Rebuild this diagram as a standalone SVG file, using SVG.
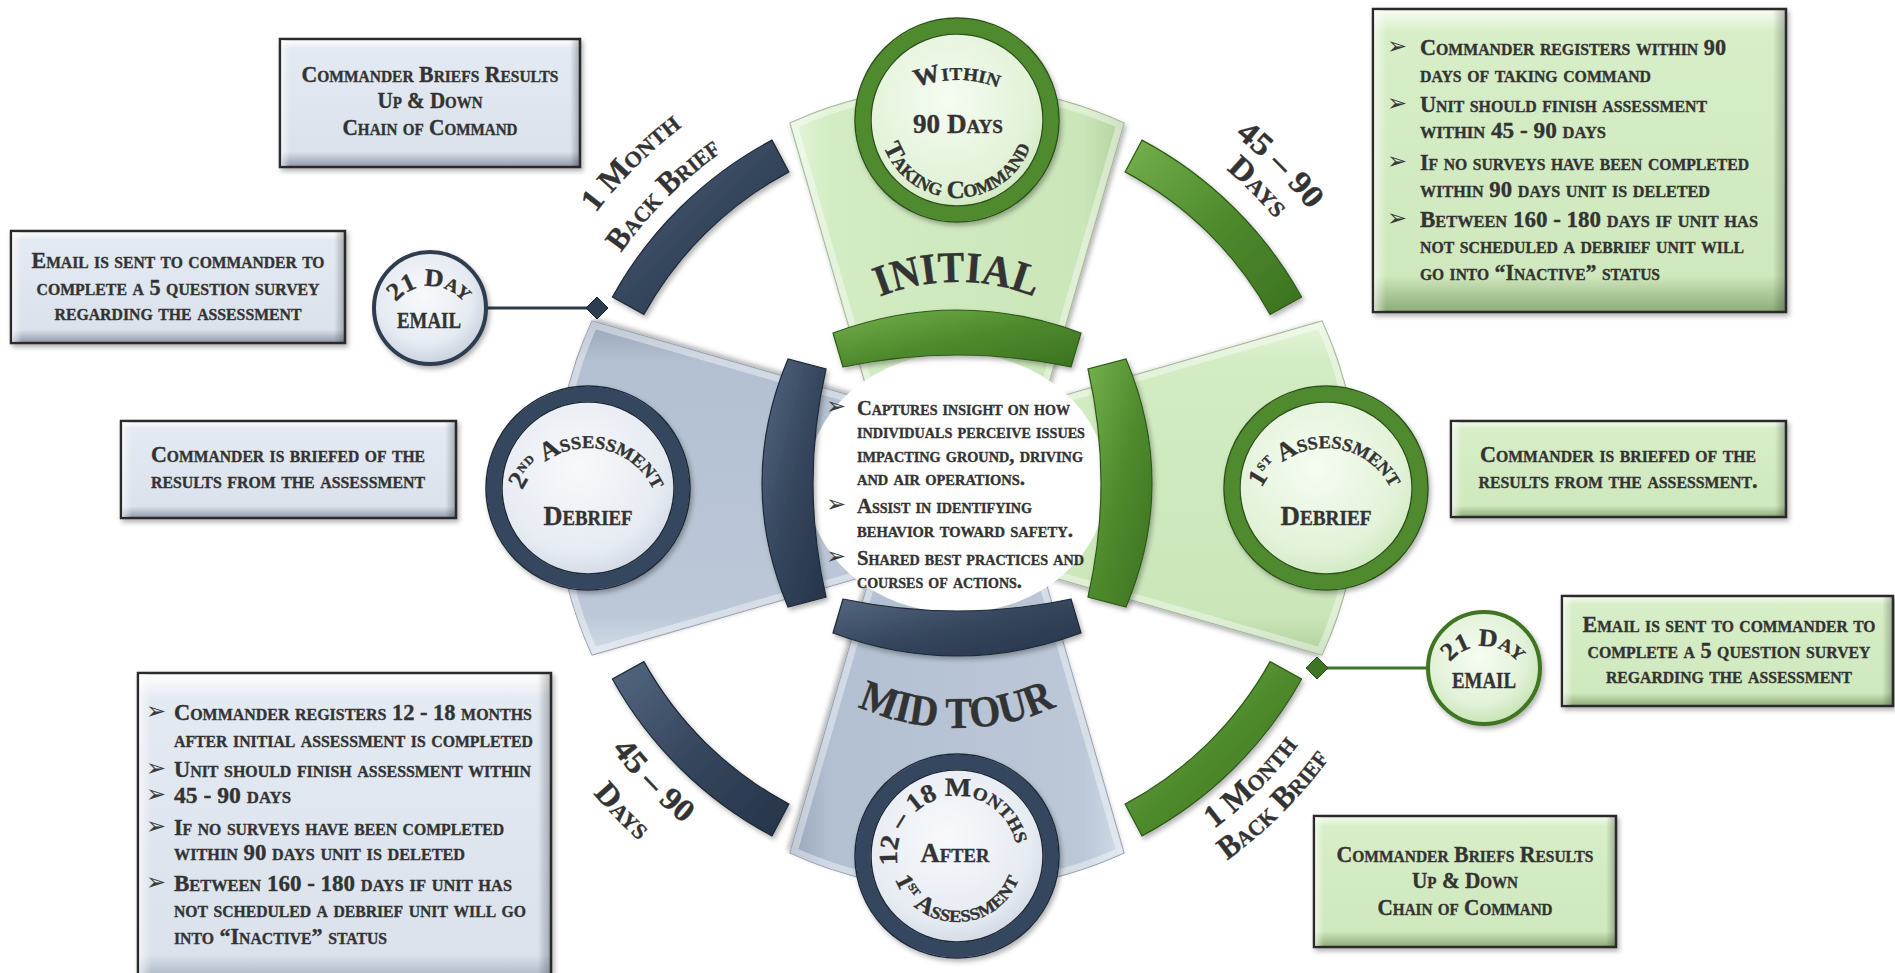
<svg xmlns="http://www.w3.org/2000/svg" width="1895" height="973" viewBox="0 0 1895 973">
<defs>
<style>
.t{font-family:"Liberation Serif","DejaVu Serif",serif;font-weight:bold;font-variant:small-caps;fill:#333333;stroke:#333333;stroke-width:0.35}
.m{text-anchor:middle}
.bul{font-family:"DejaVu Sans",sans-serif;font-size:24px;fill:#3a3a3a}
.bx{font-size:22.5px}
.ct{font-size:20.5px}
.lab{font-size:32px}
.big{font-size:44px;font-variant:normal}
.boxB{fill:url(#gBoxB);stroke:#2a2a2a;stroke-width:2.5}
.boxG{fill:url(#gBoxG);stroke:#2a2a2a;stroke-width:2.5}
.bev{fill:url(#gBev);stroke:none}
.spG{fill:url(#gSpG);stroke:#97ad8a;stroke-width:1.2}
.spB{fill:url(#gSpB);stroke:#8a97a8;stroke-width:1.2}
.hl{fill:none;stroke:#ffffff;stroke-opacity:0.4;stroke-width:14}
.arN{fill:url(#gNavy);stroke:#1f2a39;stroke-width:1.2}
.arG{fill:url(#gGreen);stroke:#2f5a1a;stroke-width:1.2}
.ringN{fill:none;stroke:#34465e;stroke-width:15}
.ringG{fill:none;stroke:#4f8b2d;stroke-width:15}
.olN{fill:none;stroke:#1f2a39;stroke-width:1.5}
.olG{fill:none;stroke:#2c5418;stroke-width:1.5}
.sh{filter:url(#shadow)}
</style>
<filter id="shadow" x="-10%" y="-10%" width="130%" height="130%">
<feDropShadow dx="2" dy="3" stdDeviation="2.5" flood-color="#000" flood-opacity="0.3"/>
</filter>
<linearGradient id="gBoxB" x1="0" y1="0" x2="0" y2="1">
<stop offset="0" stop-color="#ffffff"/><stop offset="0.08" stop-color="#e4eaf2"/><stop offset="0.88" stop-color="#dbe2ec"/><stop offset="1" stop-color="#8d98a9"/>
</linearGradient>
<linearGradient id="gBoxG" x1="0" y1="0" x2="0" y2="1">
<stop offset="0" stop-color="#f6fcf1"/><stop offset="0.08" stop-color="#d7eec8"/><stop offset="0.88" stop-color="#cfe8bd"/><stop offset="1" stop-color="#8cab78"/>
</linearGradient>
<linearGradient id="gBev" x1="0" y1="0" x2="1" y2="0">
<stop offset="0" stop-color="#ffffff" stop-opacity="0.6"/><stop offset="0.03" stop-color="#ffffff" stop-opacity="0"/><stop offset="0.97" stop-color="#000000" stop-opacity="0"/><stop offset="1" stop-color="#000000" stop-opacity="0.25"/>
</linearGradient>
<linearGradient id="gSpG" x1="0" y1="0" x2="1" y2="0">
<stop offset="0" stop-color="#e6f5dc"/><stop offset="0.12" stop-color="#d3ecc3"/><stop offset="0.88" stop-color="#cbe6b9"/><stop offset="1" stop-color="#b2d09e"/>
</linearGradient>
<linearGradient id="gSpB" x1="0" y1="0" x2="1" y2="0">
<stop offset="0" stop-color="#d3dce8"/><stop offset="0.12" stop-color="#bcc8d8"/><stop offset="0.88" stop-color="#b3c0d2"/><stop offset="1" stop-color="#98a6b9"/>
</linearGradient>
<linearGradient id="gNavy" x1="0" y1="0" x2="1" y2="1">
<stop offset="0" stop-color="#54677f"/><stop offset="0.5" stop-color="#35465d"/><stop offset="1" stop-color="#26344a"/>
</linearGradient>
<linearGradient id="gGreen" x1="0" y1="0" x2="1" y2="1">
<stop offset="0" stop-color="#74b04c"/><stop offset="0.5" stop-color="#4f8b2d"/><stop offset="1" stop-color="#3b7220"/>
</linearGradient>
<radialGradient id="gCirG" cx="0.45" cy="0.4" r="0.6">
<stop offset="0" stop-color="#f6fcf2"/><stop offset="0.7" stop-color="#e2f2d8"/><stop offset="1" stop-color="#c9e4b6"/>
</radialGradient>
<radialGradient id="gCirB" cx="0.45" cy="0.4" r="0.6">
<stop offset="0" stop-color="#f8f9fc"/><stop offset="0.7" stop-color="#e6ebf2"/><stop offset="1" stop-color="#c9d2df"/>
</radialGradient>
<path id="spokeShape" d="M 790,123 A 401 401 0 0 1 1124,123 L 1044,400 L 870,400 Z"/>
<clipPath id="cpSpoke"><use href="#spokeShape"/></clipPath>
<path id="pTL1" d="M 518.5,370.5 A 454 454 0 0 1 839.5,49.5"/>
<path id="pTL2" d="M 561.0,381.9 A 410 410 0 0 1 850.9,92.0"/>
<path id="pTR1" d="M 1073.2,54.3 A 449 449 0 0 1 1390.7,371.8"/>
<path id="pTR2" d="M 1064.9,85.2 A 417 417 0 0 1 1359.8,380.1"/>
<path id="pBL1" d="M 536.9,592.7 A 433 433 0 0 0 837.7,904.2"/>
<path id="pBL2" d="M 496.1,602.9 A 475 475 0 0 0 826.1,944.6"/>
<path id="pBR1" d="M 1067.5,900.4 A 427 427 0 0 0 1369.4,598.5"/>
<path id="pBR2" d="M 1076.1,932.3 A 460 460 0 0 0 1401.3,607.1"/>
<path id="pInit" d="M 824.6,330.2 A 206 206 0 0 1 1089.4,330.2"/>
<path id="pMid" d="M 773.2,642.3 A 240 240 0 0 0 1140.8,642.3"/>
<path id="pWithin" d="M 879.2,112.2 A 110 110 0 0 1 1034.8,112.2"/>
<path id="pTaking" d="M 880.2,133.5 A 78 78 0 0 0 1033.8,133.5"/>
<path id="p2nd" d="M 517.1,507.5 A 72 72 0 0 1 658.9,507.5"/>
<path id="p1st" d="M 1255.1,507.5 A 72 72 0 0 1 1396.9,507.5"/>
<path id="p1218" d="M 900.6,876.5 A 60 60 0 1 1 1017,856"/>
<path id="pAfter1" d="M 892,867.5 A 66 66 0 0 0 1022,867.5"/>
<path id="pEmL" d="M 386.7,322.4 A 44 44 0 0 1 473.3,322.4"/>
<path id="pEmR" d="M 1440.7,682.4 A 44 44 0 0 1 1527.3,682.4"/>
</defs>
<rect width="1895" height="973" fill="#ffffff"/>

<g id="spokes">
<g id="spoke-initial" class="sh"><use href="#spokeShape" class="spG"/><use href="#spokeShape" class="hl" clip-path="url(#cpSpoke)"/></g>
<g id="spoke-first" class="sh" transform="rotate(90 957 488)"><use href="#spokeShape" class="spG"/><use href="#spokeShape" class="hl" clip-path="url(#cpSpoke)"/></g>
<g id="spoke-midtour" class="sh" transform="rotate(180 957 488)"><use href="#spokeShape" class="spB"/><use href="#spokeShape" class="hl" clip-path="url(#cpSpoke)"/></g>
<g id="spoke-second" class="sh" transform="rotate(270 957 488)"><use href="#spokeShape" class="spB"/><use href="#spokeShape" class="hl" clip-path="url(#cpSpoke)"/></g>
</g>

<g id="outer-ring" class="sh">
<path class="arN" d="M 772.0,140.1 A 394 394 0 0 0 612.4,297.0 L 643.9,314.4 A 358 358 0 0 1 788.9,171.9 Z"/>
<path class="arG" d="M 1142.0,140.1 A 394 394 0 0 1 1301.6,297.0 L 1270.1,314.4 A 358 358 0 0 0 1125.1,171.9 Z"/>
<path class="arG" d="M 1142.0,835.9 A 394 394 0 0 0 1301.6,679.0 L 1270.1,661.6 A 358 358 0 0 1 1125.1,804.1 Z"/>
<path class="arN" d="M 772.0,835.9 A 394 394 0 0 1 612.4,679.0 L 643.9,661.6 A 358 358 0 0 0 788.9,804.1 Z"/>
</g>

<g id="connectors">
<line x1="487" y1="308" x2="597" y2="308" stroke="#2e3c50" stroke-width="3"/>
<path d="M 597,297 L 608,308 L 597,319 L 586,308 Z" fill="#2e3c50" stroke="#1a2330" stroke-width="1"/>
<line x1="1317" y1="668" x2="1427" y2="668" stroke="#3f7424" stroke-width="3"/>
<path d="M 1317,657 L 1328,668 L 1317,679 L 1306,668 Z" fill="#3f7424" stroke="#26501a" stroke-width="1"/>
</g>

<g id="hub">
<ellipse cx="957" cy="483" rx="150" ry="130" fill="#ffffff"/>
<g class="sh">
<path class="arG" d="M 833,333 Q 957,287 1081,333 L 1071,367 Q 957,343 843,367 Z"/>
<path class="arG" d="M 1126,359 Q 1178,483 1126,607 L 1088,597 Q 1114,483 1088,369 Z"/>
<path class="arN" d="M 833,633 Q 957,679 1081,633 L 1071,599 Q 957,623 843,599 Z"/>
<path class="arN" d="M 788,359 Q 736,483 788,607 L 826,597 Q 800,483 826,369 Z"/>
</g>
<text class="bul" x="826" y="414">➢</text>
<text class="t ct" x="857" y="415" textLength="213" lengthAdjust="spacingAndGlyphs">Captures insight on how</text>
<text class="t ct" x="857" y="438" textLength="228" lengthAdjust="spacingAndGlyphs">individuals perceive issues</text>
<text class="t ct" x="857" y="462" textLength="226" lengthAdjust="spacingAndGlyphs">impacting ground, driving</text>
<text class="t ct" x="857" y="485" textLength="168" lengthAdjust="spacingAndGlyphs">and air operations.</text>
<text class="bul" x="826" y="512">➢</text>
<text class="t ct" x="857" y="513" textLength="175" lengthAdjust="spacingAndGlyphs">Assist in identifying</text>
<text class="t ct" x="857" y="537" textLength="216" lengthAdjust="spacingAndGlyphs">behavior toward safety.</text>
<text class="bul" x="826" y="564">➢</text>
<text class="t ct" x="857" y="565" textLength="227" lengthAdjust="spacingAndGlyphs">Shared best practices and</text>
<text class="t ct" x="857" y="588" textLength="165" lengthAdjust="spacingAndGlyphs">courses of actions.</text>
</g>

<g id="phase-labels">
<text class="t big"><textPath href="#pInit" startOffset="50%" text-anchor="middle" textLength="158" lengthAdjust="spacingAndGlyphs">INITIAL</textPath></text>
<text class="t big"><textPath href="#pMid" startOffset="50%" text-anchor="middle" textLength="205" lengthAdjust="spacingAndGlyphs">MID TOUR</textPath></text>
</g>

<g id="node-within" class="sh">
<circle cx="957" cy="120" r="102" fill="url(#gCirG)"/>
<circle cx="957" cy="120" r="94" class="ringG"/>
<circle cx="957" cy="120" r="102" class="olG"/>
<circle cx="957" cy="120" r="86" class="olG"/>
</g>
<g id="node-within-text">
<text class="t" style="font-size:25px"><textPath href="#pWithin" startOffset="50%" text-anchor="middle" textLength="84" lengthAdjust="spacingAndGlyphs">Within</textPath></text>
<text class="t m" x="958" y="133" style="font-size:27px" textLength="90" lengthAdjust="spacingAndGlyphs">90 Days</text>
<text class="t" style="font-size:25px"><textPath href="#pTaking" startOffset="50%" text-anchor="middle" textLength="190" lengthAdjust="spacingAndGlyphs">Taking Command</textPath></text>
</g>

<g id="node-first-debrief" class="sh">
<circle cx="1326" cy="488" r="102" fill="url(#gCirG)"/>
<circle cx="1326" cy="488" r="94" class="ringG"/>
<circle cx="1326" cy="488" r="102" class="olG"/>
<circle cx="1326" cy="488" r="86" class="olG"/>
</g>
<g id="node-first-debrief-text">
<text class="t" style="font-size:26px"><textPath href="#p1st" startOffset="50%" text-anchor="middle" textLength="160" lengthAdjust="spacingAndGlyphs">1<tspan style="font-size:17px" dy="-8">st</tspan><tspan dy="8"> Assessment</tspan></textPath></text>
<text class="t m" x="1326" y="525" style="font-size:28px" textLength="91" lengthAdjust="spacingAndGlyphs">Debrief</text>
</g>

<g id="node-midtour" class="sh">
<circle cx="957" cy="856" r="102" fill="url(#gCirB)"/>
<circle cx="957" cy="856" r="94" class="ringN"/>
<circle cx="957" cy="856" r="102" class="olN"/>
<circle cx="957" cy="856" r="86" class="olN"/>
</g>
<g id="node-midtour-text">
<text class="t" style="font-size:26px"><textPath href="#p1218" startOffset="50%" text-anchor="middle" textLength="185" lengthAdjust="spacingAndGlyphs">12 – 18 Months</textPath></text>
<text class="t m" x="955" y="862" style="font-size:27px" textLength="69" lengthAdjust="spacingAndGlyphs">After</text>
<text class="t" style="font-size:24px"><textPath href="#pAfter1" startOffset="50%" text-anchor="middle" textLength="160" lengthAdjust="spacingAndGlyphs">1<tspan style="font-size:15px" dy="-8">st</tspan><tspan dy="8"> Assessment</tspan></textPath></text>
</g>

<g id="node-second-debrief" class="sh">
<circle cx="588" cy="488" r="102" fill="url(#gCirB)"/>
<circle cx="588" cy="488" r="94" class="ringN"/>
<circle cx="588" cy="488" r="102" class="olN"/>
<circle cx="588" cy="488" r="86" class="olN"/>
</g>
<g id="node-second-debrief-text">
<text class="t" style="font-size:26px"><textPath href="#p2nd" startOffset="50%" text-anchor="middle" textLength="165" lengthAdjust="spacingAndGlyphs">2<tspan style="font-size:17px" dy="-8">nd</tspan><tspan dy="8"> Assessment</tspan></textPath></text>
<text class="t m" x="588" y="525" style="font-size:28px" textLength="89" lengthAdjust="spacingAndGlyphs">Debrief</text>
</g>

<g id="arc-labels">
<text class="t lab"><textPath href="#pTL1" startOffset="50%" text-anchor="middle" textLength="123" lengthAdjust="spacingAndGlyphs">1 Month</textPath></text>
<text class="t lab"><textPath href="#pTL2" startOffset="50%" text-anchor="middle" textLength="143" lengthAdjust="spacingAndGlyphs">Back Brief</textPath></text>
<text class="t lab"><textPath href="#pTR1" startOffset="50%" text-anchor="middle" textLength="106" lengthAdjust="spacingAndGlyphs">45 – 90</textPath></text>
<text class="t lab"><textPath href="#pTR2" startOffset="50%" text-anchor="middle" textLength="70" lengthAdjust="spacingAndGlyphs">Days</textPath></text>
<text class="t lab"><textPath href="#pBL1" startOffset="50%" text-anchor="middle" textLength="104" lengthAdjust="spacingAndGlyphs">45 – 90</textPath></text>
<text class="t lab"><textPath href="#pBL2" startOffset="50%" text-anchor="middle" textLength="66" lengthAdjust="spacingAndGlyphs">Days</textPath></text>
<text class="t lab"><textPath href="#pBR1" startOffset="50%" text-anchor="middle" textLength="119" lengthAdjust="spacingAndGlyphs">1 Month</textPath></text>
<text class="t lab"><textPath href="#pBR2" startOffset="50%" text-anchor="middle" textLength="145" lengthAdjust="spacingAndGlyphs">Back Brief</textPath></text>
</g>

<g id="email-left" class="sh">
<circle cx="430" cy="308" r="56" fill="url(#gCirB)" stroke="#2e3c50" stroke-width="4"/>
</g>
<g id="email-left-text">
<text class="t" style="font-size:25px"><textPath href="#pEmL" startOffset="50%" text-anchor="middle" textLength="78" lengthAdjust="spacingAndGlyphs">21 Day</textPath></text>
<text class="t m" x="429" y="328" style="font-size:24px" textLength="64" lengthAdjust="spacingAndGlyphs">EMAIL</text>
</g>

<g id="email-right" class="sh">
<circle cx="1484" cy="668" r="56" fill="url(#gCirG)" stroke="#3f7424" stroke-width="4"/>
</g>
<g id="email-right-text">
<text class="t" style="font-size:25px"><textPath href="#pEmR" startOffset="50%" text-anchor="middle" textLength="78" lengthAdjust="spacingAndGlyphs">21 Day</textPath></text>
<text class="t m" x="1484" y="688" style="font-size:24px" textLength="64" lengthAdjust="spacingAndGlyphs">EMAIL</text>
</g>

<g id="box-tl-brief">
<rect class="boxB sh" x="280" y="39" width="300" height="128"/>
<rect class="bev" x="281" y="40" width="298" height="126"/>
<text class="t bx m" x="430" y="82" textLength="257" lengthAdjust="spacingAndGlyphs">Commander Briefs Results</text>
<text class="t bx m" x="430" y="108" textLength="105" lengthAdjust="spacingAndGlyphs">Up &amp; Down</text>
<text class="t bx m" x="430" y="135" textLength="175" lengthAdjust="spacingAndGlyphs">Chain of Command</text>
</g>

<g id="box-left-email">
<rect class="boxB sh" x="11" y="231" width="334" height="112"/>
<rect class="bev" x="12" y="232" width="332" height="110"/>
<text class="t bx m" x="178" y="268" textLength="293" lengthAdjust="spacingAndGlyphs">Email is sent to commander to</text>
<text class="t bx m" x="178" y="295" textLength="283" lengthAdjust="spacingAndGlyphs">complete a 5 question survey</text>
<text class="t bx m" x="178" y="320" textLength="247" lengthAdjust="spacingAndGlyphs">regarding the assessment</text>
</g>

<g id="box-left-briefed">
<rect class="boxB sh" x="121" y="421" width="335" height="97"/>
<rect class="bev" x="122" y="422" width="333" height="95"/>
<text class="t bx m" x="288" y="462" textLength="274" lengthAdjust="spacingAndGlyphs">Commander is briefed of the</text>
<text class="t bx m" x="288" y="488" textLength="274" lengthAdjust="spacingAndGlyphs">results from the assessment</text>
</g>

<g id="box-bl-midtour">
<rect class="boxB sh" x="138" y="673" width="413" height="320"/>
<rect class="bev" x="139" y="674" width="411" height="318"/>
<text class="bul" x="146" y="719">➢</text>
<text class="t bx" x="174" y="720" textLength="358" lengthAdjust="spacingAndGlyphs">Commander registers 12 - 18 months</text>
<text class="t bx" x="174" y="747" textLength="359" lengthAdjust="spacingAndGlyphs">after initial assessment is completed</text>
<text class="bul" x="146" y="776">➢</text>
<text class="t bx" x="174" y="777" textLength="357" lengthAdjust="spacingAndGlyphs">Unit should finish assessment within</text>
<text class="bul" x="146" y="802">➢</text>
<text class="t bx" x="174" y="803" textLength="117" lengthAdjust="spacingAndGlyphs">45 - 90 days</text>
<text class="bul" x="146" y="834">➢</text>
<text class="t bx" x="174" y="835" textLength="330" lengthAdjust="spacingAndGlyphs">If no surveys have been completed</text>
<text class="t bx" x="174" y="860" textLength="291" lengthAdjust="spacingAndGlyphs">within 90 days unit is deleted</text>
<text class="bul" x="146" y="890">➢</text>
<text class="t bx" x="174" y="891" textLength="338" lengthAdjust="spacingAndGlyphs">Between 160 - 180 days if unit has</text>
<text class="t bx" x="174" y="917" textLength="352" lengthAdjust="spacingAndGlyphs">not scheduled a debrief unit will go</text>
<text class="t bx" x="174" y="944" textLength="213" lengthAdjust="spacingAndGlyphs">into “Inactive” status</text>
</g>

<g id="box-tr-initial">
<rect class="boxG sh" x="1373" y="9" width="413" height="303"/>
<rect class="bev" x="1374" y="10" width="411" height="301"/>
<text class="bul" x="1387" y="54">➢</text>
<text class="t bx" x="1420" y="55" textLength="306" lengthAdjust="spacingAndGlyphs">Commander registers within 90</text>
<text class="t bx" x="1420" y="82" textLength="231" lengthAdjust="spacingAndGlyphs">days of taking command</text>
<text class="bul" x="1387" y="111">➢</text>
<text class="t bx" x="1420" y="112" textLength="287" lengthAdjust="spacingAndGlyphs">Unit should finish assessment</text>
<text class="t bx" x="1420" y="138" textLength="186" lengthAdjust="spacingAndGlyphs">within 45 - 90 days</text>
<text class="bul" x="1387" y="169">➢</text>
<text class="t bx" x="1420" y="170" textLength="329" lengthAdjust="spacingAndGlyphs">If no surveys have been completed</text>
<text class="t bx" x="1420" y="197" textLength="290" lengthAdjust="spacingAndGlyphs">within 90 days unit is deleted</text>
<text class="bul" x="1387" y="226">➢</text>
<text class="t bx" x="1420" y="227" textLength="338" lengthAdjust="spacingAndGlyphs">Between 160 - 180 days if unit has</text>
<text class="t bx" x="1420" y="253" textLength="324" lengthAdjust="spacingAndGlyphs">not scheduled a debrief unit will</text>
<text class="t bx" x="1420" y="280" textLength="240" lengthAdjust="spacingAndGlyphs">go into “Inactive” status</text>
</g>

<g id="box-right-briefed">
<rect class="boxG sh" x="1451" y="421" width="335" height="96"/>
<rect class="bev" x="1452" y="422" width="333" height="94"/>
<text class="t bx m" x="1618" y="462" textLength="276" lengthAdjust="spacingAndGlyphs">Commander is briefed of the</text>
<text class="t bx m" x="1618" y="488" textLength="279" lengthAdjust="spacingAndGlyphs">results from the assessment.</text>
</g>

<g id="box-right-email">
<rect class="boxG sh" x="1562" y="596" width="331" height="110"/>
<rect class="bev" x="1563" y="597" width="329" height="108"/>
<text class="t bx m" x="1729" y="632" textLength="293" lengthAdjust="spacingAndGlyphs">Email is sent to commander to</text>
<text class="t bx m" x="1729" y="658" textLength="283" lengthAdjust="spacingAndGlyphs">complete a 5 question survey</text>
<text class="t bx m" x="1729" y="683" textLength="246" lengthAdjust="spacingAndGlyphs">regarding the assessment</text>
</g>

<g id="box-br-brief">
<rect class="boxG sh" x="1314" y="816" width="302" height="131"/>
<rect class="bev" x="1315" y="817" width="300" height="129"/>
<text class="t bx m" x="1465" y="862" textLength="257" lengthAdjust="spacingAndGlyphs">Commander Briefs Results</text>
<text class="t bx m" x="1465" y="888" textLength="106" lengthAdjust="spacingAndGlyphs">Up &amp; Down</text>
<text class="t bx m" x="1465" y="915" textLength="175" lengthAdjust="spacingAndGlyphs">Chain of Command</text>
</g>
</svg>
